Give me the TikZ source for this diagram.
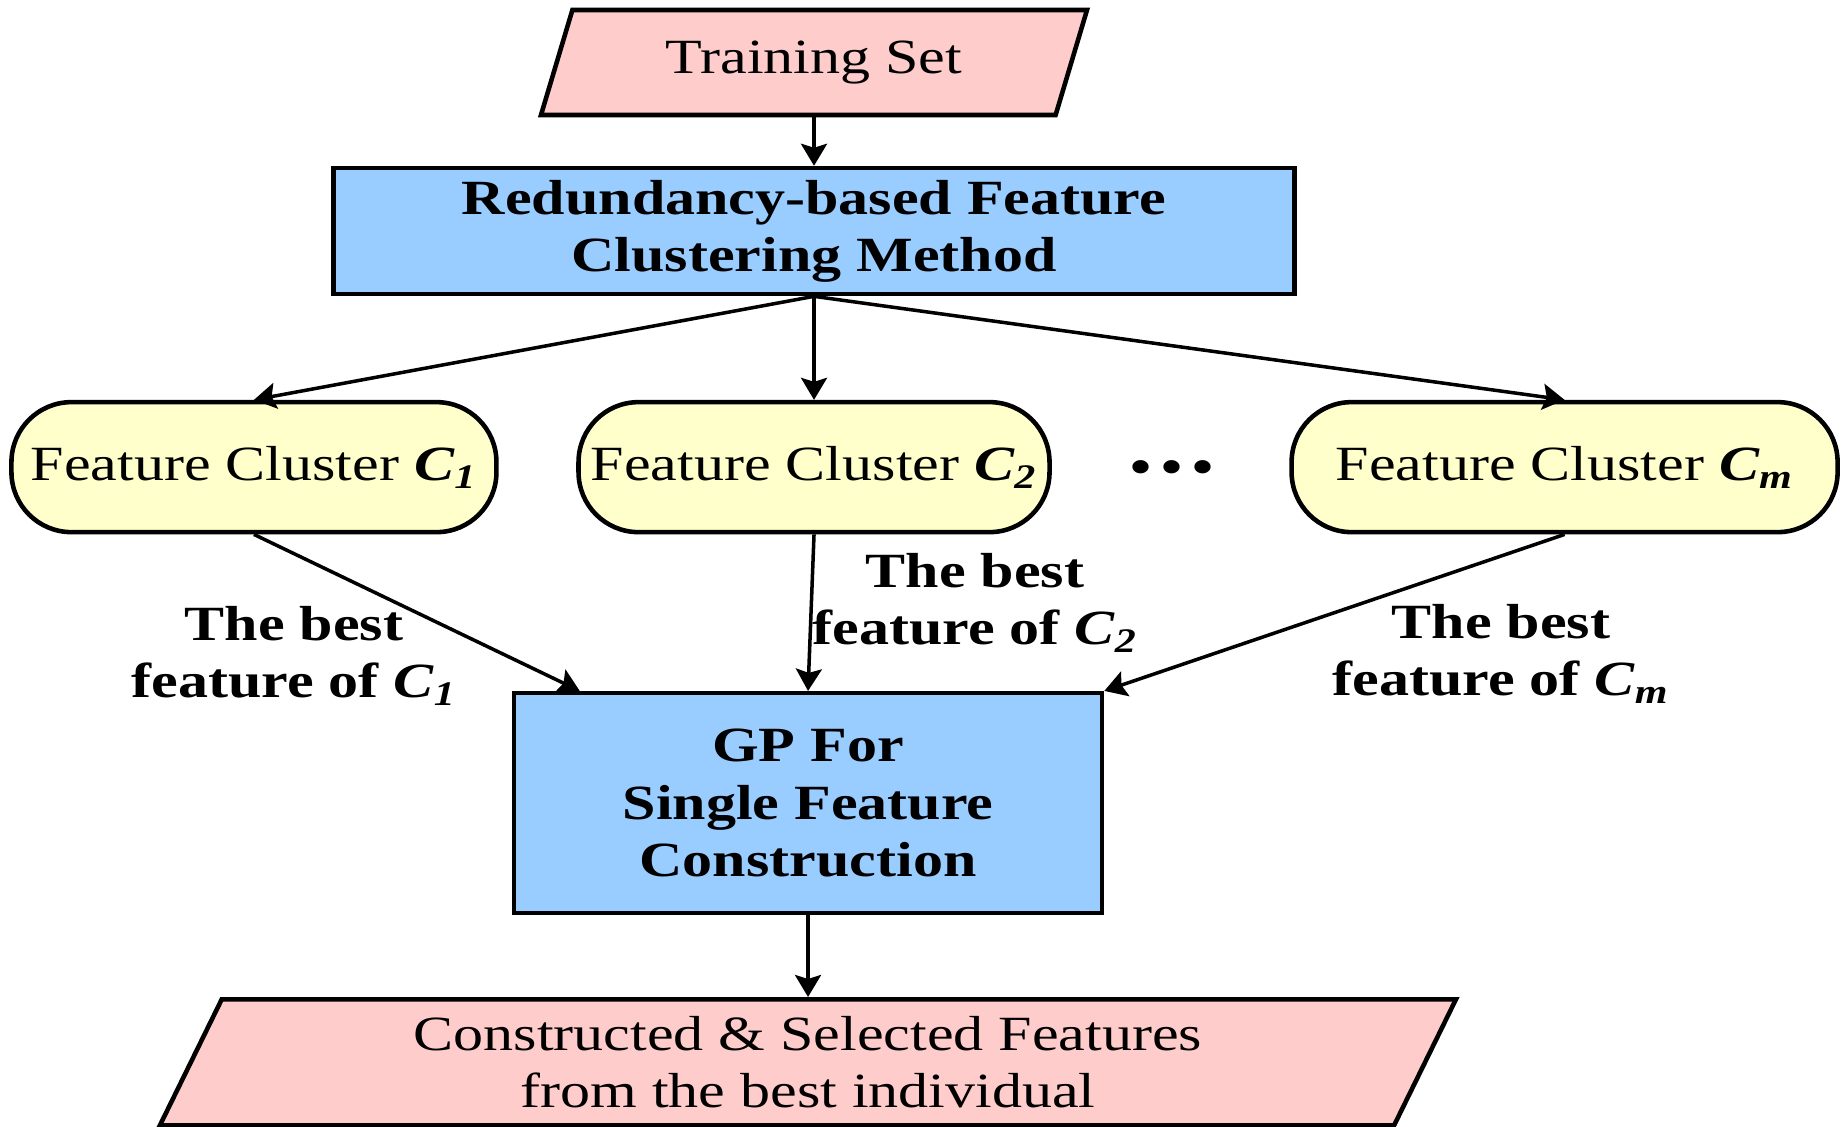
\documentclass[tikz,border=0pt]{standalone}
\usepackage{fontspec}
\setmainfont[FakeStretch=1.22]{Liberation Serif}
\usetikzlibrary{positioning,shapes.geometric,arrows.meta}
\definecolor{iopink}{RGB}{255,204,204}
\definecolor{procblue}{RGB}{153,204,255}
\definecolor{clusteryellow}{RGB}{255,255,204}
\tikzset{>={Stealth[length=2.2mm,width=2.6mm,inset=0.4mm]}}
\tikzset{
  iobox/.style={draw, fill=iopink, line width=1.3pt, trapezium,
    trapezium left angle=58, trapezium right angle=122,
    trapezium stretches body, inner ysep=1pt, align=center},
  procbox/.style={draw, fill=procblue, line width=1.3pt, align=center,
    inner ysep=2pt, font=\bfseries},
  clusterbox/.style={draw, fill=clusteryellow, line width=1.3pt,
    rounded corners=0.6cm, inner xsep=1pt, minimum height=1.30cm},
  bestlabel/.style={align=center, font=\bfseries},
  link/.style={->, line width=1pt},
}

\begin{document}
\fontsize{14}{16.3}\selectfont
\begin{tikzpicture}
      \useasboundingbox (0,0) rectangle (18.42,-11.27);

      \node [iobox,
        minimum width=5.46cm,
        minimum height=1.05cm
      ] (train) at (8.14,-0.625) {Training Set};
      \node [procbox,
        minimum width=9.61cm,
        minimum height=1.26cm,
        below=0.485cm of train
      ] (redund) {Redundancy-based Feature\\Clustering Method};
      \node [clusterbox,
        minimum width=4.71cm,
        below=1.035cm of redund
      ] (c2) {Feature Cluster \textbf{\textit{C\textsubscript{2}}}};
      \node [clusterbox,
        minimum width=4.85cm,
        left=0.775cm of c2
      ] (c1) {Feature Cluster \textbf{\textit{C\textsubscript{1}}}};
      \node [clusterbox,
        minimum width=5.46cm,
        right=2.375cm of c2
      ] (cm) {Feature Cluster \textbf{\textit{C\textsubscript{m}}}};
      \node (dots) at (11.72,-4.72) {\textbf{\textbullet\hspace{0.2em}\textbullet\hspace{0.2em}\textbullet}};
      \node [procbox,
        minimum width=5.88cm,
        minimum height=2.20cm,
        below=1.565cm of c2,
        xshift=-0.06cm
      ] (gp) {GP For\\Single Feature\\Construction};
      \node [iobox,
        minimum width=12.96cm,
        minimum height=1.26cm,
        below=0.815cm of gp
      ] (out) {Constructed \& Selected Features\\from the best individual};

      \node [bestlabel] (best1) at (2.94,-6.56) {The best\\feature of \textit{C\textsubscript{1}}};
      \node [bestlabel] (best2) at (9.75,-6.03) {The best\\feature of \textit{C\textsubscript{2}}};
      \node [bestlabel] (bestm) at (15.01,-6.54) {The best\\feature of \textit{C\textsubscript{m}}};

      \draw[link] (train.south) -- (redund.north);
      \draw[link] (redund.south) -- (c1.north);
      \draw[link] (redund.south) -- (c2.north);
      \draw[link] (redund.south) -- (cm.north);
      \draw[link] (c1.south) -- ([xshift=0.68cm]gp.north west);
      \draw[link] (c2.south) -- (gp.north);
      \draw[link] (cm.south) -- (gp.north east);
      \draw[link] (gp.south) -- (out.north);
    \end{tikzpicture}
\end{document}
